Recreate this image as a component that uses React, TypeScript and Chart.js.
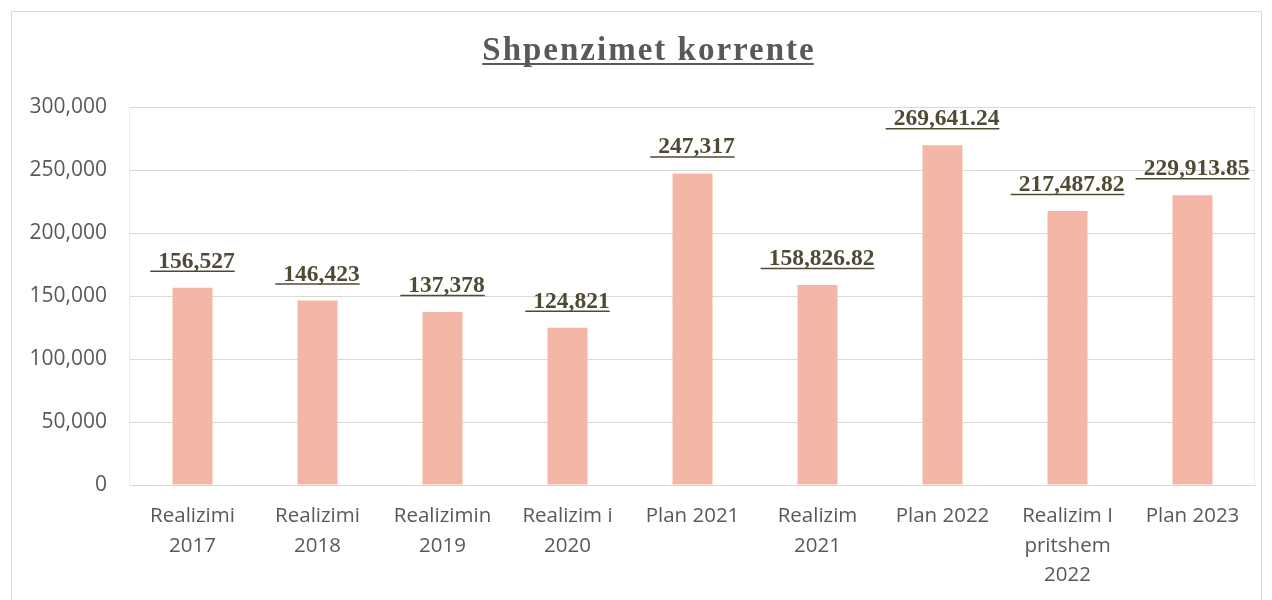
import React, { useEffect, useRef } from "react";
import { Chart, registerables } from "chart.js";

Chart.register(...registerables);

const chartTitle = "Shpenzimet korrente";
const categories: (string | string[])[] = [
  ["Realizimi", "2017"],
  ["Realizimi", "2018"],
  ["Realizimin", "2019"],
  ["Realizim i", "2020"],
  "Plan 2021",
  ["Realizim", "2021"],
  "Plan 2022",
  ["Realizim I", "pritshem", "2022"],
  "Plan 2023",
];
const values = [156527, 146423, 137378, 124821, 247317, 158826.82, 269641.24, 217487.82, 229913.85];
const yMin = 0;
const yMax = 300000;
const yStep = 50000;

const barColor = "#F5B7A5";
const labelColor = "#4E4A33";
const axisTextColor = "#595959";
const gridColor = "#D9D9D9";

function formatValue(v: number): string {
  return Number.isInteger(v)
    ? v.toLocaleString("en-US")
    : v.toLocaleString("en-US", { minimumFractionDigits: 2, maximumFractionDigits: 2 });
}

const decorPlugin = {
  id: "decor",
  beforeDraw(chart: any) {
    const ctx = chart.ctx;
    ctx.save();
    ctx.fillStyle = "#ffffff";
    ctx.fillRect(0, 0, chart.width, chart.height);
    ctx.strokeStyle = "#D9D9D9";
    ctx.lineWidth = 1;
    ctx.strokeRect(11.5, 11.5, 1250, 700);
    const a = chart.chartArea;
    ctx.strokeStyle = "#EDEDED";
    ctx.strokeRect(
      Math.round(a.left) - 0.5,
      Math.round(a.top) + 0.5,
      Math.round(a.right - a.left),
      Math.round(a.bottom - a.top)
    );
    ctx.restore();
  },
  afterDatasetsDraw(chart: any) {
    const ctx = chart.ctx;
    const meta = chart.getDatasetMeta(0);
    ctx.save();
    ctx.font = "bold 23.5px 'Liberation Serif', 'DejaVu Serif', serif";
    ctx.fillStyle = labelColor;
    ctx.strokeStyle = labelColor;
    ctx.textAlign = "left";
    ctx.textBaseline = "alphabetic";
    const lead = 8;
    meta.data.forEach((bar: any, i: number) => {
      const text = formatValue(values[i]);
      const tw = ctx.measureText(text).width;
      const total = tw + lead;
      const x0 = bar.x - total / 2;
      const base = bar.y - 20;
      ctx.fillText(text, x0 + lead, base);
      ctx.lineWidth = 1.5;
      ctx.beginPath();
      ctx.moveTo(x0, base + 3.5);
      ctx.lineTo(x0 + total, base + 3.5);
      ctx.stroke();
    });
    ctx.restore();
  },
  afterDraw(chart: any) {
    const ctx = chart.ctx;
    ctx.save();
    ctx.font = "bold 33px 'Liberation Serif', 'DejaVu Serif', serif";
    (ctx as any).letterSpacing = "2px";
    ctx.fillStyle = "#595959";
    ctx.strokeStyle = "#595959";
    ctx.textAlign = "left";
    ctx.textBaseline = "alphabetic";
    const cx = 648;
    const base = 60;
    const w = ctx.measureText(chartTitle).width - 2;
    const x0 = cx - w / 2;
    ctx.fillText(chartTitle, x0, base);
    ctx.lineWidth = 2;
    ctx.beginPath();
    ctx.moveTo(x0, base + 4);
    ctx.lineTo(x0 + w, base + 4);
    ctx.stroke();
    ctx.restore();
  },
};

export default function App() {
  const canvasRef = useRef<HTMLCanvasElement | null>(null);

  useEffect(() => {
    document.body.style.margin = "0";
    const canvas = canvasRef.current;
    if (!canvas) return;
    const chart = new Chart(canvas, {
      type: "bar",
      data: {
        labels: categories,
        datasets: [
          {
            data: values,
            backgroundColor: barColor,
            borderWidth: 0,
            barPercentage: 0.32,
            categoryPercentage: 1,
          },
        ],
      },
      options: {
        responsive: false,
        animation: false,
        layout: { padding: { top: 107, right: 17, left: 0, bottom: 0 } },
        plugins: {
          legend: { display: false },
          title: { display: false },
          tooltip: { enabled: false },
        },
        scales: {
          x: {
            grid: { display: false, drawTicks: false },
            border: { display: true, color: gridColor, width: 1 },
            ticks: {
              color: axisTextColor,
              font: { family: "'Open Sans', sans-serif", size: 20.5, lineHeight: 1.42 },
              padding: 17,
              maxRotation: 0,
              autoSkip: false,
            },
            afterFit(scale: any) {
              scale.height = 115;
            },
          },
          y: {
            min: yMin,
            max: yMax,
            ticks: {
              stepSize: yStep,
              color: axisTextColor,
              font: { family: "'Open Sans', sans-serif", size: 21 },
              padding: 23,
              callback: (v: any) => Number(v).toLocaleString("en-US"),
            },
            grid: { color: gridColor, drawTicks: false, lineWidth: 1 },
            border: { display: false },
            afterFit(scale: any) {
              scale.width = 130;
            },
          },
        },
      },
      plugins: [decorPlugin],
    });
    return () => chart.destroy();
  }, []);

  return (
    <div style={{ width: 1272, height: 600 }}>
      <canvas ref={canvasRef} width={1272} height={600} style={{ display: "block", width: 1272, height: 600 }} />
    </div>
  );
}
